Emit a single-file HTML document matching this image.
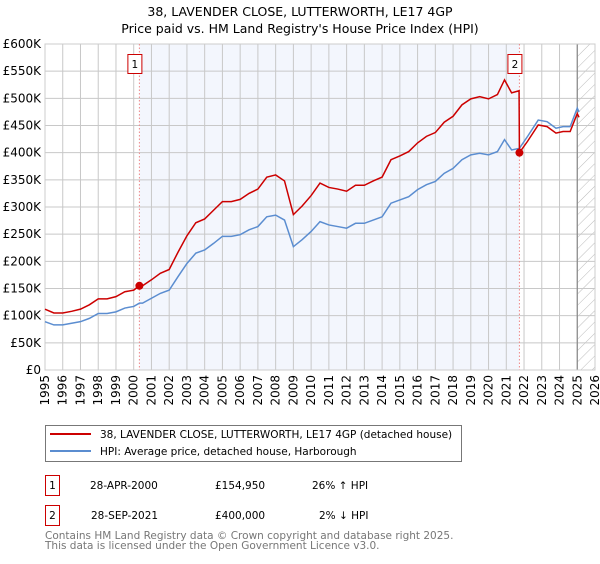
<!DOCTYPE html>
<html><head><meta charset="utf-8"><style>
body{margin:0;background:#fff;font-family:"DejaVu Sans","Liberation Sans",sans-serif;}
svg text{font-family:"DejaVu Sans","Liberation Sans",sans-serif;}
</style></head><body>
<svg id="chart" width="600" height="560" xmlns="http://www.w3.org/2000/svg">
<defs><pattern id="hatch" patternUnits="userSpaceOnUse" width="8" height="8" patternTransform="rotate(45)"><line x1="0" y1="0" x2="0" y2="8" stroke="#bbb" stroke-width="1"/></pattern></defs>
<text x="300" y="16" text-anchor="middle" font-size="12.5">38, LAVENDER CLOSE, LUTTERWORTH, LE17 4GP</text>
<text x="300" y="33" text-anchor="middle" font-size="12.5">Price paid vs. HM Land Registry's House Price Index (HPI)</text>
<g id="plot"></g>
<g>
<rect x="45.5" y="425.5" width="416" height="36" fill="#fff" stroke="#777"/>
<line x1="50" y1="434" x2="91" y2="434" stroke="#cc0000" stroke-width="2"/>
<text x="100" y="438" font-size="10.5">38, LAVENDER CLOSE, LUTTERWORTH, LE17 4GP (detached house)</text>
<line x1="50" y1="451" x2="91" y2="451" stroke="#5b8dd0" stroke-width="2"/>
<text x="100" y="455" font-size="10.5">HPI: Average price, detached house, Harborough</text>
</g>
<g font-size="10.5">
<rect x="45.5" y="475.5" width="14" height="20" fill="#fff" stroke="#cc0000"/>
<text x="52.5" y="489" text-anchor="middle">1</text>
<text x="90" y="489">28-APR-2000</text><text x="215" y="489">£154,950</text><text x="312" y="489">26% ↑ HPI</text>
<rect x="45.5" y="505.5" width="14" height="20" fill="#fff" stroke="#cc0000"/>
<text x="52.5" y="519" text-anchor="middle">2</text>
<text x="91" y="519">28-SEP-2021</text><text x="215" y="519">£400,000</text><text x="319" y="519">2% ↓ HPI</text>
</g>
<text x="45" y="539" font-size="10.5" fill="#777">Contains HM Land Registry data © Crown copyright and database right 2025.</text>
<text x="45" y="549" font-size="10.5" fill="#777">This data is licensed under the Open Government Licence v3.0.</text>
</svg>
<script>
const hpiYears=[1995,1995.5,1996,1996.5,1997,1997.5,1998,1998.5,1999,1999.5,2000,2000.32,2000.5,2001,2001.5,2002,2002.5,2003,2003.5,2004,2004.5,2005,2005.5,2006,2006.5,2007,2007.5,2008,2008.5,2009,2009.5,2010,2010.5,2011,2011.5,2012,2012.5,2013,2013.5,2014,2014.5,2015,2015.5,2016,2016.5,2017,2017.5,2018,2018.5,2019,2019.5,2020,2020.5,2020.9,2021.3,2021.74,2022.2,2022.8,2023.3,2023.8,2024.2,2024.6,2025.0,2025.1];
const hpiValues=[89,83,83,86,89,95,104,104,107,114,117,123,123,132,141,147,172,196,215,221,233,246,246,249,258,264,282,285,276,227,240,255,273,267,264,261,270,270,276,282,307,313,319,332,341,347,362,371,387,396,399,396,402,424,405,408,430,460,457,445,448,448,482,475];
const priceYears=[1995,1995.5,1996,1996.5,1997,1997.5,1998,1998.5,1999,1999.5,2000,2000.32,2000.5,2001,2001.5,2002,2002.5,2003,2003.5,2004,2004.5,2005,2005.5,2006,2006.5,2007,2007.5,2008,2008.5,2009,2009.5,2010,2010.5,2011,2011.5,2012,2012.5,2013,2013.5,2014,2014.5,2015,2015.5,2016,2016.5,2017,2017.5,2018,2018.5,2019,2019.5,2020,2020.5,2020.9,2021.3,2021.72,2021.74,2022.2,2022.8,2023.3,2023.8,2024.2,2024.6,2025.0,2025.1];
const priceValues=[112,105,105,108,112,120,131,131,135,144,147,155,155,166,178,185,217,247,271,278,294,310,310,314,325,333,355,359,348,286,302,321,344,336,333,329,340,340,348,355,387,394,402,418,430,437,456,467,488,499,503,499,507,534,510,514,400,421,451,448,436,439,439,472,465];
const sales=[{label:"1",year:2000.32,value:154.95},{label:"2",year:2021.74,value:400}];
const yTicks=[0,50,100,150,200,250,300,350,400,450,500,550,600];
const yTickLabels=["£0","£50K","£100K","£150K","£200K","£250K","£300K","£350K","£400K","£450K","£500K","£550K","£600K"];
const xTicks=[1995,1996,1997,1998,1999,2000,2001,2002,2003,2004,2005,2006,2007,2008,2009,2010,2011,2012,2013,2014,2015,2016,2017,2018,2019,2020,2021,2022,2023,2024,2025,2026];
const X0=45,X1=595,Y0=370,Y1=44;
const xs=y=>X0+(y-1995)/(2026-1995)*(X1-X0);
const ys=v=>Y0-v/600*(Y0-Y1);
const NS="http://www.w3.org/2000/svg";
const g=document.getElementById('plot');
function mk(t,a,p){const e=document.createElementNS(NS,t);for(const k in a)e.setAttribute(k,a[k]);(p||g).appendChild(e);return e;}
let e;
e=mk('rect',{x:X0,y:Y1,width:X1-X0,height:Y0-Y1,fill:'#fff'});


e=mk('rect',{x:xs(sales[0].year),y:Y1,width:xs(sales[1].year)-xs(sales[0].year),height:Y0-Y1,fill:'#f3f6fd'});


e=mk('rect',{x:xs(2025.0),y:Y1,width:X1-xs(2025.0),height:Y0-Y1,fill:'url(#hatch)'});


yTicks.forEach((v,i)=>{
 e=mk('line',{x1:X0,x2:X1,y1:ys(v),y2:ys(v),stroke:'#c8c8c8','stroke-width':1});
 
 
 e=mk('text',{x:X0-4,y:ys(v)+4,'text-anchor':'end','font-size':'12'});
 e.textContent=yTickLabels[i];
 
 
});
xTicks.forEach(y=>{
 e=mk('line',{x1:xs(y),x2:xs(y),y1:Y1,y2:Y0,stroke:'#c8c8c8','stroke-width':1});
 
 
 e=mk('text',{x:0,y:0,'text-anchor':'end','font-size':'12',transform:`translate(${xs(y)+4},${Y0+5}) rotate(-90)`});
 e.textContent=y;
 
 
});
e=mk('line',{x1:xs(2025.0),x2:xs(2025.0),y1:Y1,y2:Y0,stroke:'#888','stroke-width':1.2});


e=mk('rect',{x:X0,y:Y1,width:X1-X0,height:Y0-Y1,fill:'none',stroke:'#ccc'});


sales.forEach(s=>{
 e=mk('line',{x1:xs(s.year),x2:xs(s.year),y1:Y1,y2:Y0,stroke:'#e88','stroke-width':1,'stroke-dasharray':'1.5,2'});
 
 
});
e=mk('polyline',{points:hpiYears.map((y,i)=>xs(y)+','+ys(hpiValues[i])).join(' '),fill:'none',stroke:'#5b8dd0','stroke-width':1.5});


e=mk('polyline',{points:priceYears.map((y,i)=>xs(y)+','+ys(priceValues[i])).join(' '),fill:'none',stroke:'#cc0000','stroke-width':1.5});


sales.forEach(s=>{
 e=mk('circle',{cx:xs(s.year),cy:ys(s.value),r:4,fill:'#cc0000'});
 
 
 e=mk('rect',{x:xs(s.year)-11.5,y:54.5,width:14,height:19,fill:'#fff',stroke:'#cc0000'});
 
 
 e=mk('text',{x:xs(s.year)-4.5,y:68,'text-anchor':'middle','font-size':'10.5'});
 e.textContent=s.label;
 
 
});
</script>
</body></html>
